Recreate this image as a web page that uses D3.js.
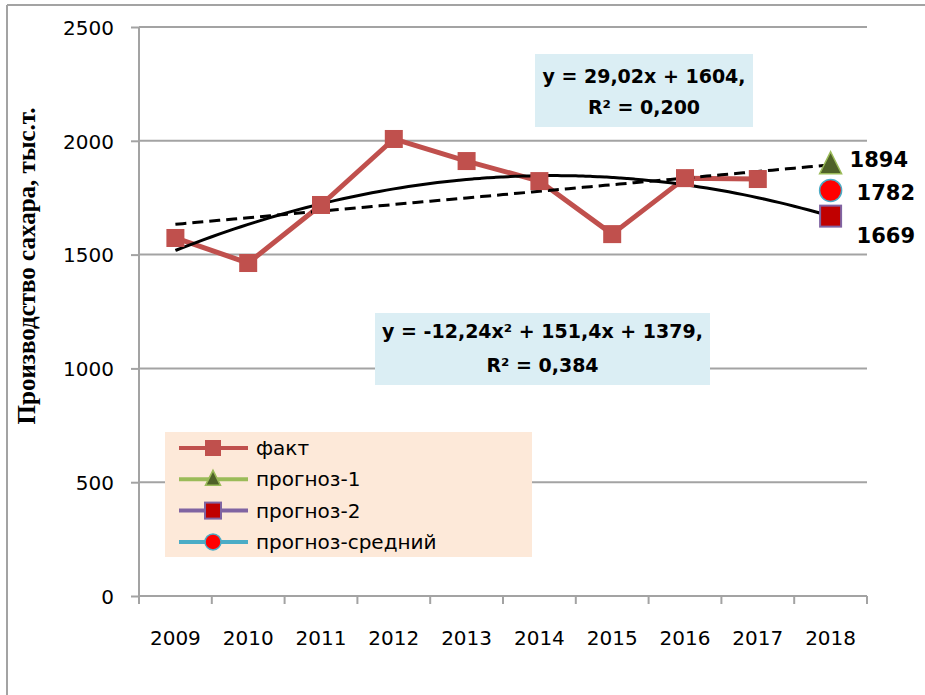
<!DOCTYPE html>
<html>
<head>
<meta charset="utf-8">
<script src="https://cdn.jsdelivr.net/npm/d3@7"></script>
<style>
  html, body { margin: 0; padding: 0; background: #fff; }
  svg { display: block; }
</style>
</head>
<body>
<svg id="chart" width="925" height="695"></svg>
<script>
// ---- data ----
const years = ["2009","2010","2011","2012","2013","2014","2015","2016","2017","2018"];
const fact = [1573, 1463, 1718, 2008, 1911, 1823, 1590, 1836, 1832, null];
const prognoz1 = [null, null, null, null, null, null, null, null, null, 1894];
const prognoz2 = [null, null, null, null, null, null, null, null, null, 1669];
const prognozAvg = [null, null, null, null, null, null, null, null, null, 1782];
const yTicks = [0, 500, 1000, 1500, 2000, 2500];
const linCoef = [29.02, 1604];            // y = a x + b
const quadCoef = [-12.24, 151.4, 1379];   // y = a x^2 + b x + c
const linLabel = ["y = 29,02x + 1604,", "R² = 0,200"];
const quadLabel = ["y = -12,24x² + 151,4x + 1379,", "R² = 0,384"];
const seriesNames = ["факт", "прогноз-1", "прогноз-2", "прогноз-средний"];
const yTitle = "Производство сахара, тыс.т.";

// ---- layout ----
const svg = d3.select("#chart");
const L = 139, R = 867, T = 27, B = 596;
const x = d3.scaleBand().domain(years).range([L, R]);
const y = d3.scaleLinear().domain([0, 2500]).range([B, T]);
const cx = i => x(years[i]) + x.bandwidth() / 2;
const xi = t => x(years[0]) + x.bandwidth() * (t - 0.5); // trend position for x index t (1-based)
const grid = "#a3a3a3";
const font = "'DejaVu Sans', sans-serif";

// frame
svg.append("line").attr("x1", 7).attr("x2", 925).attr("y1", 5).attr("y2", 5).attr("stroke", grid).attr("stroke-width", 2);
svg.append("line").attr("x1", 7).attr("x2", 7).attr("y1", 5).attr("y2", 695).attr("stroke", grid).attr("stroke-width", 2);

// gridlines
svg.append("g").selectAll("line").data(yTicks.filter(d => d > 0)).join("line")
  .attr("x1", L).attr("x2", R).attr("y1", d => y(d)).attr("y2", d => y(d))
  .attr("stroke", grid).attr("stroke-width", 2);

// y axis
const yAxis = svg.append("g").attr("transform", `translate(${L},0)`)
  .call(d3.axisLeft(y).tickValues(yTicks).tickSize(8).tickPadding(17).tickFormat(d3.format("d")));
yAxis.select(".domain").attr("stroke", grid).attr("stroke-width", 2).attr("d", `M0,${T}V${B}`);
yAxis.selectAll(".tick line").attr("stroke", grid).attr("stroke-width", 2);
yAxis.selectAll(".tick text").attr("font-family", font).attr("font-size", 20).attr("fill", "#000").attr("dy", "0.36em");

// x axis
const xAxis = svg.append("g").attr("transform", `translate(0,${B})`)
  .call(d3.axisBottom(x).tickSize(0).tickPadding(0));
xAxis.select(".domain").attr("stroke", grid).attr("stroke-width", 2).attr("d", `M${L},0H${R}`);
xAxis.selectAll(".tick text").attr("font-family", font).attr("font-size", 20).attr("fill", "#000").attr("y", 49).attr("dy", 0);
svg.append("g").selectAll("line").data(years.concat(["end"])).join("line")
  .attr("x1", (d, i) => L + i * x.bandwidth()).attr("x2", (d, i) => L + i * x.bandwidth())
  .attr("y1", B).attr("y2", B + 8).attr("stroke", grid).attr("stroke-width", 2);

// y title
svg.append("text").attr("transform", `translate(35,266) rotate(-90)`)
  .attr("text-anchor", "middle").attr("font-family", "'Liberation Serif', serif")
  .attr("font-weight", "bold").attr("font-size", 25).text(yTitle);

// fact line
const factPts = fact.map((v, i) => ({i, v})).filter(d => d.v != null);
svg.append("path").datum(factPts)
  .attr("d", d3.line().x(d => cx(d.i)).y(d => y(d.v)))
  .attr("fill", "none").attr("stroke", "#c0504d").attr("stroke-width", 5).attr("stroke-linejoin", "round");

// trend lines
const tSteps = d3.range(1, 10.001, 0.1);
svg.append("path").datum(tSteps)
  .attr("d", d3.line().x(t => xi(t)).y(t => y(linCoef[0] * t + linCoef[1])))
  .attr("fill", "none").attr("stroke", "#000").attr("stroke-width", 3).attr("stroke-dasharray", "11,6");
svg.append("path").datum(tSteps)
  .attr("d", d3.line().curve(d3.curveBasis).x(t => xi(t)).y(t => y(quadCoef[0] * t * t + quadCoef[1] * t + quadCoef[2])))
  .attr("fill", "none").attr("stroke", "#000").attr("stroke-width", 3);

// fact markers
svg.append("g").selectAll("rect").data(factPts).join("rect")
  .attr("x", d => cx(d.i) - 9).attr("y", d => y(d.v) - 9).attr("width", 18).attr("height", 18)
  .attr("fill", "#c0504d");

// marker helpers
function triangle(g, px, py, s) {
  g.append("path").attr("d", `M${px},${py - s * 0.6}L${px + s / 2},${py + s * 0.4}L${px - s / 2},${py + s * 0.4}Z`)
    .attr("fill", "#4f6228").attr("stroke", "#9bbb59").attr("stroke-width", 1.5);
}
function square2(g, px, py, s) {
  g.append("rect").attr("x", px - s / 2).attr("y", py - s / 2).attr("width", s).attr("height", s)
    .attr("fill", "#c00000").attr("stroke", "#8064a2").attr("stroke-width", 2);
}
function circ(g, px, py, s) {
  g.append("circle").attr("cx", px).attr("cy", py).attr("r", s / 2)
    .attr("fill", "#ff0000").attr("stroke", "#4bacc6").attr("stroke-width", 1.5);
}
function factMark(g, px, py, s) {
  g.append("rect").attr("x", px - s / 2).attr("y", py - s / 2).attr("width", s).attr("height", s).attr("fill", "#c0504d");
}

// forecast markers + labels
const fg = svg.append("g");
prognoz1.forEach((v, i) => { if (v != null) triangle(fg, cx(i), y(v), 22); });
prognozAvg.forEach((v, i) => { if (v != null) circ(fg, cx(i), y(v), 22); });
prognoz2.forEach((v, i) => { if (v != null) square2(fg, cx(i), y(v), 21); });
const lab = (txt, px, py) => svg.append("text").attr("x", px).attr("y", py)
  .attr("font-family", font).attr("font-weight", "bold").attr("font-size", 21).text(txt);
prognoz1.forEach((v, i) => { if (v != null) lab(String(v), cx(i) + 19, y(v) + 2); });
prognozAvg.forEach((v, i) => { if (v != null) lab(String(v), cx(i) + 26, y(v) + 10); });
prognoz2.forEach((v, i) => { if (v != null) lab(String(v), cx(i) + 26, y(v) + 27); });

// equation boxes
function eqBox(lines, x0, y0, w, h, b1, b2) {
  svg.append("rect").attr("x", x0).attr("y", y0).attr("width", w).attr("height", h).attr("fill", "#dbeef4");
  const t = svg.append("text").attr("text-anchor", "middle").attr("font-family", font)
    .attr("font-weight", "bold").attr("font-size", 19);
  t.append("tspan").attr("x", x0 + w / 2).attr("y", y0 + b1).text(lines[0]);
  t.append("tspan").attr("x", x0 + w / 2).attr("y", y0 + b2).text(lines[1]);
}
eqBox(linLabel, 535, 54, 218, 73, 29, 60);
eqBox(quadLabel, 375, 313, 335, 72, 25, 59);

// legend
const lg = svg.append("g");
lg.append("rect").attr("x", 165).attr("y", 432).attr("width", 367).attr("height", 125).attr("fill", "#fde9d9");
const legColors = ["#c0504d", "#9bbb59", "#8064a2", "#4bacc6"];
const legMarks = [factMark, triangle, square2, circ];
const legSizes = [16, 15, 16, 16];
seriesNames.forEach((name, k) => {
  const ly = 448 + k * 31.3;
  lg.append("line").attr("x1", 179).attr("x2", 248).attr("y1", ly).attr("y2", ly)
    .attr("stroke", legColors[k]).attr("stroke-width", 4);
  legMarks[k](lg, 213, ly, legSizes[k]);
  lg.append("text").attr("x", 256).attr("y", ly + 7).attr("font-family", font).attr("font-size", 20).text(name);
});
</script>
</body>
</html>
